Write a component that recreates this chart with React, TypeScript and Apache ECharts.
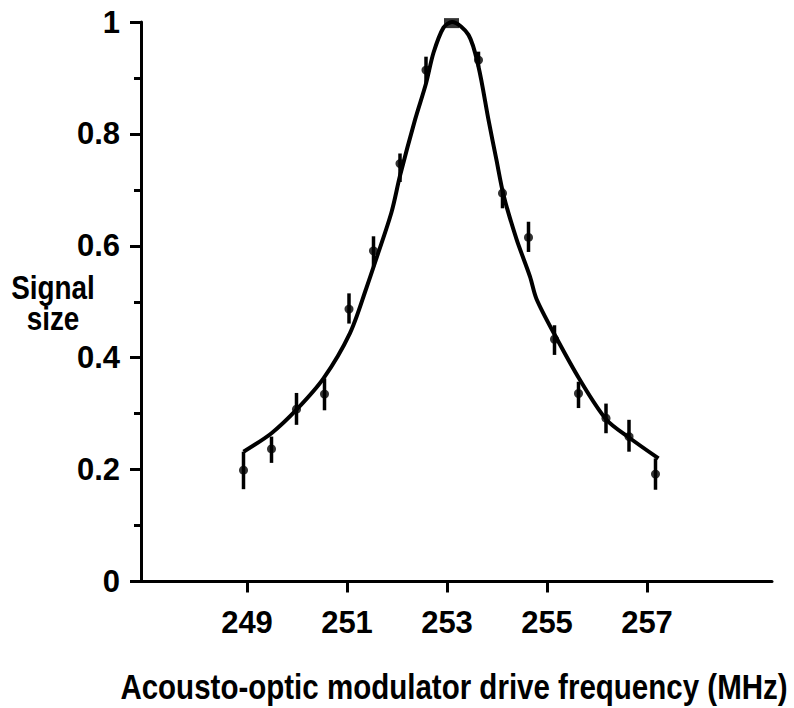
import React, { useEffect, useRef } from "react";
import * as echarts from "echarts";

// Measured data points (frequency in MHz, normalised signal size)
const freq = [248.93, 249.49, 249.99, 250.55, 251.04, 251.53, 252.06, 252.58, 253.09, 253.63, 254.11, 254.63, 255.15, 255.63, 256.18, 256.64, 257.17];
const signal = [0.199, 0.237, 0.308, 0.335, 0.487, 0.591, 0.747, 0.914, 0.998, 0.932, 0.694, 0.615, 0.433, 0.336, 0.292, 0.259, 0.192];
const errLow = [0.165, 0.212, 0.28, 0.306, 0.461, 0.563, 0.714, 0.891, 0.998, 0.92, 0.667, 0.589, 0.405, 0.31, 0.265, 0.232, 0.164];
const errHigh = [0.232, 0.259, 0.337, 0.363, 0.515, 0.617, 0.765, 0.938, 0.998, 0.947, 0.703, 0.643, 0.458, 0.357, 0.318, 0.289, 0.22];
const peakIndex = 8;

// Fitted curve
const fitX = [248.93, 249.49, 249.99, 250.53, 251.06, 251.39, 251.59, 251.89, 252.06, 252.36, 252.58, 252.73, 252.93, 253.1, 253.43, 253.63, 253.83, 253.99, 254.13, 254.39, 254.66, 254.79, 255.16, 255.66, 256.19, 256.66, 257.23];
const fitY = [0.232, 0.265, 0.307, 0.363, 0.444, 0.525, 0.578, 0.66, 0.725, 0.825, 0.89, 0.945, 0.99, 1.0, 0.977, 0.92, 0.825, 0.753, 0.691, 0.612, 0.545, 0.505, 0.44, 0.36, 0.289, 0.256, 0.22];

const xTickValues = [249, 251, 253, 255, 257];
const yTickValues = [0, 0.2, 0.4, 0.6, 0.8, 1];

const xTitle = "Acousto-optic modulator drive frequency (MHz)";
const yTitle = "Signal\nsize";

const FONT = "'Liberation Sans', Arial, sans-serif";

export default function App() {
  const ref = useRef<HTMLDivElement>(null);
  useEffect(() => {
    if (!ref.current) return;
    const chart = echarts.init(ref.current, undefined, { renderer: "svg" });
    const dots = freq.map((f, i) => [f, signal[i]]).filter((_, i) => i !== peakIndex);
    const bars = freq.map((f, i) => [f, errLow[i], errHigh[i]]).filter((_, i) => i !== peakIndex);
    chart.setOption({
      animation: false,
      backgroundColor: "#fff",
      grid: { left: 141, right: 22, top: 22, bottom: 126.5 },
      xAxis: {
        type: "value",
        min: 246.88,
        max: 259.5,
        axisLine: { show: true, lineStyle: { color: "#000", width: 3 } },
        axisTick: { show: true, customValues: xTickValues, length: 11, lineStyle: { color: "#000", width: 3 } },
        axisLabel: {
          customValues: xTickValues,
          color: "#000",
          fontSize: 31,
          fontWeight: "bold",
          fontFamily: FONT,
          margin: 25,
        },
        splitLine: { show: false },
      },
      yAxis: {
        type: "value",
        min: yTickValues[0],
        max: yTickValues[yTickValues.length - 1],
        interval: 0.2,
        axisLine: { show: true, lineStyle: { color: "#000", width: 3 } },
        axisTick: { show: true, length: 11, lineStyle: { color: "#000", width: 3 } },
        minorTick: { show: true, splitNumber: 2, length: 7, lineStyle: { color: "#000", width: 3 } },
        axisLabel: {
          color: "#000",
          fontSize: 31,
          fontWeight: "bold",
          fontFamily: FONT,
          margin: 21,
        },
        splitLine: { show: false },
      },
      graphic: [
        {
          type: "text",
          x: 53,
          y: 303,
          scaleX: 0.82,
          style: {
            text: yTitle,
            fill: "#000",
            font: "bold 34px " + FONT,
            textAlign: "center",
            textVerticalAlign: "middle",
            lineHeight: 31,
          },
        },
        {
          type: "text",
          x: 454,
          y: 686,
          scaleX: 0.82,
          style: {
            text: xTitle,
            fill: "#000",
            font: "bold 36px " + FONT,
            textAlign: "center",
            textVerticalAlign: "middle",
          },
        },
      ],
      series: [
        {
          type: "line",
          data: fitX.map((x, i) => [x, fitY[i]]),
          smooth: 0.3,
          symbol: "none",
          lineStyle: { color: "#000", width: 4 },
          z: 2,
        },
        {
          type: "custom",
          data: bars,
          encode: { x: 0, y: [1, 2] },
          renderItem: (params: any, api: any) => {
            const x = api.value(0);
            const lo = api.coord([x, api.value(1)]);
            const hi = api.coord([x, api.value(2)]);
            return {
              type: "line",
              shape: { x1: lo[0], y1: lo[1], x2: hi[0], y2: hi[1] },
              style: { stroke: "#000", lineWidth: 3.5 },
            };
          },
          z: 3,
        },
        {
          type: "scatter",
          data: dots,
          symbol: "circle",
          symbolSize: 9,
          itemStyle: { color: "#000" },
          z: 4,
        },
        {
          type: "scatter",
          data: [[freq[peakIndex], signal[peakIndex]]],
          symbol: "rect",
          symbolSize: [15, 10],
          itemStyle: { color: "#000" },
          z: 4,
        },
      ],
    });
    return () => chart.dispose();
  }, []);
  return (
    <div
      ref={ref}
      style={{ position: "fixed", left: 0, top: 0, width: 794, height: 708, background: "#fff" }}
    />
  );
}
